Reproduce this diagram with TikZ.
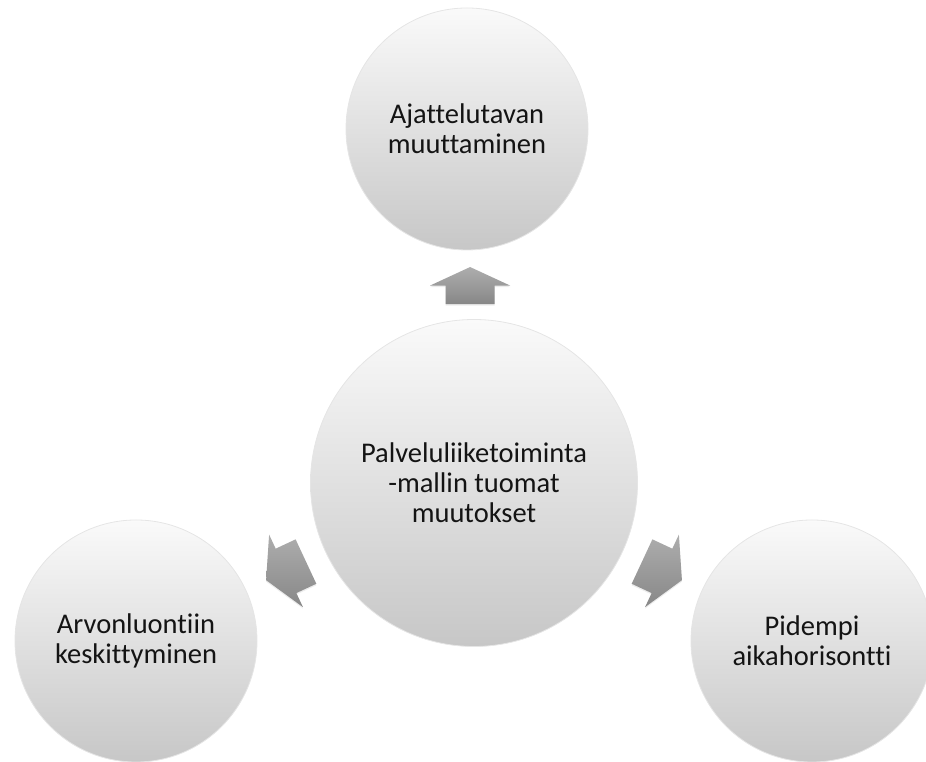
\documentclass[tikz,border=0pt]{standalone}
\usepackage{fontspec}
\setmainfont{Carlito}[Ligatures=NoCommon]
\usetikzlibrary{calc,shadows}

\tikzset{
  bubble/.style={circle, inner sep=0pt, align=center,
    top color=black!2, bottom color=black!22,
    draw=black!10, line width=0.8pt,
    font=\fontsize{28.5}{30}\selectfont, text=black!92},
  bigbubble/.style={bubble, minimum size=327pt},
  smallbubble/.style={bubble, minimum size=242pt},
  arrowbody/.style={top color=black!32, bottom color=black!47,
    drop shadow={shadow xshift=0pt, shadow yshift=-1.5pt, opacity=0.15}},
  % block arrow pointing along +x, origin on the line through the wing tips
  pics/fatarrow/.style={code={
    \path[arrowbody] (-#1,-24.5) -- (0,-24.5) -- (0,-40) -- (#1,0)
      -- (0,40) -- (0,24.5) -- (-#1,24.5) -- cycle;}}
}

\begin{document}
\begin{tikzpicture}[x=1pt, y=1pt]
  \useasboundingbox (0,0) rectangle (926,762);
  \clip (0,0) rectangle (926,762);

  \node[smallbubble] (t) at (467,633) {Ajattelutavan\\muuttaminen};
  \node[bigbubble]   (c) at (474,279) {Palveluliiketoiminta\\-mallin tuomat\\muutokset};
  \node[smallbubble] (l) at (136,121) {Arvonluontiin\\keskittyminen};
  \node[smallbubble] (r) at (812,121) {Pidempi\\aikahorisontti};

  \coordinate (ta) at ($(c.center)!197.5pt!(t.center)$);
  \coordinate (la) at ($(c.center)!207.5pt!(l.center)$);
  \coordinate (ra) at ($(c.center)!207.5pt!(r.center)$);

  \path (ta) pic[rotate=90]  {fatarrow=18.5};
  \path (la) pic[rotate=205] {fatarrow=22};
  \path (ra) pic[rotate=-25] {fatarrow=22};
\end{tikzpicture}
\end{document}
